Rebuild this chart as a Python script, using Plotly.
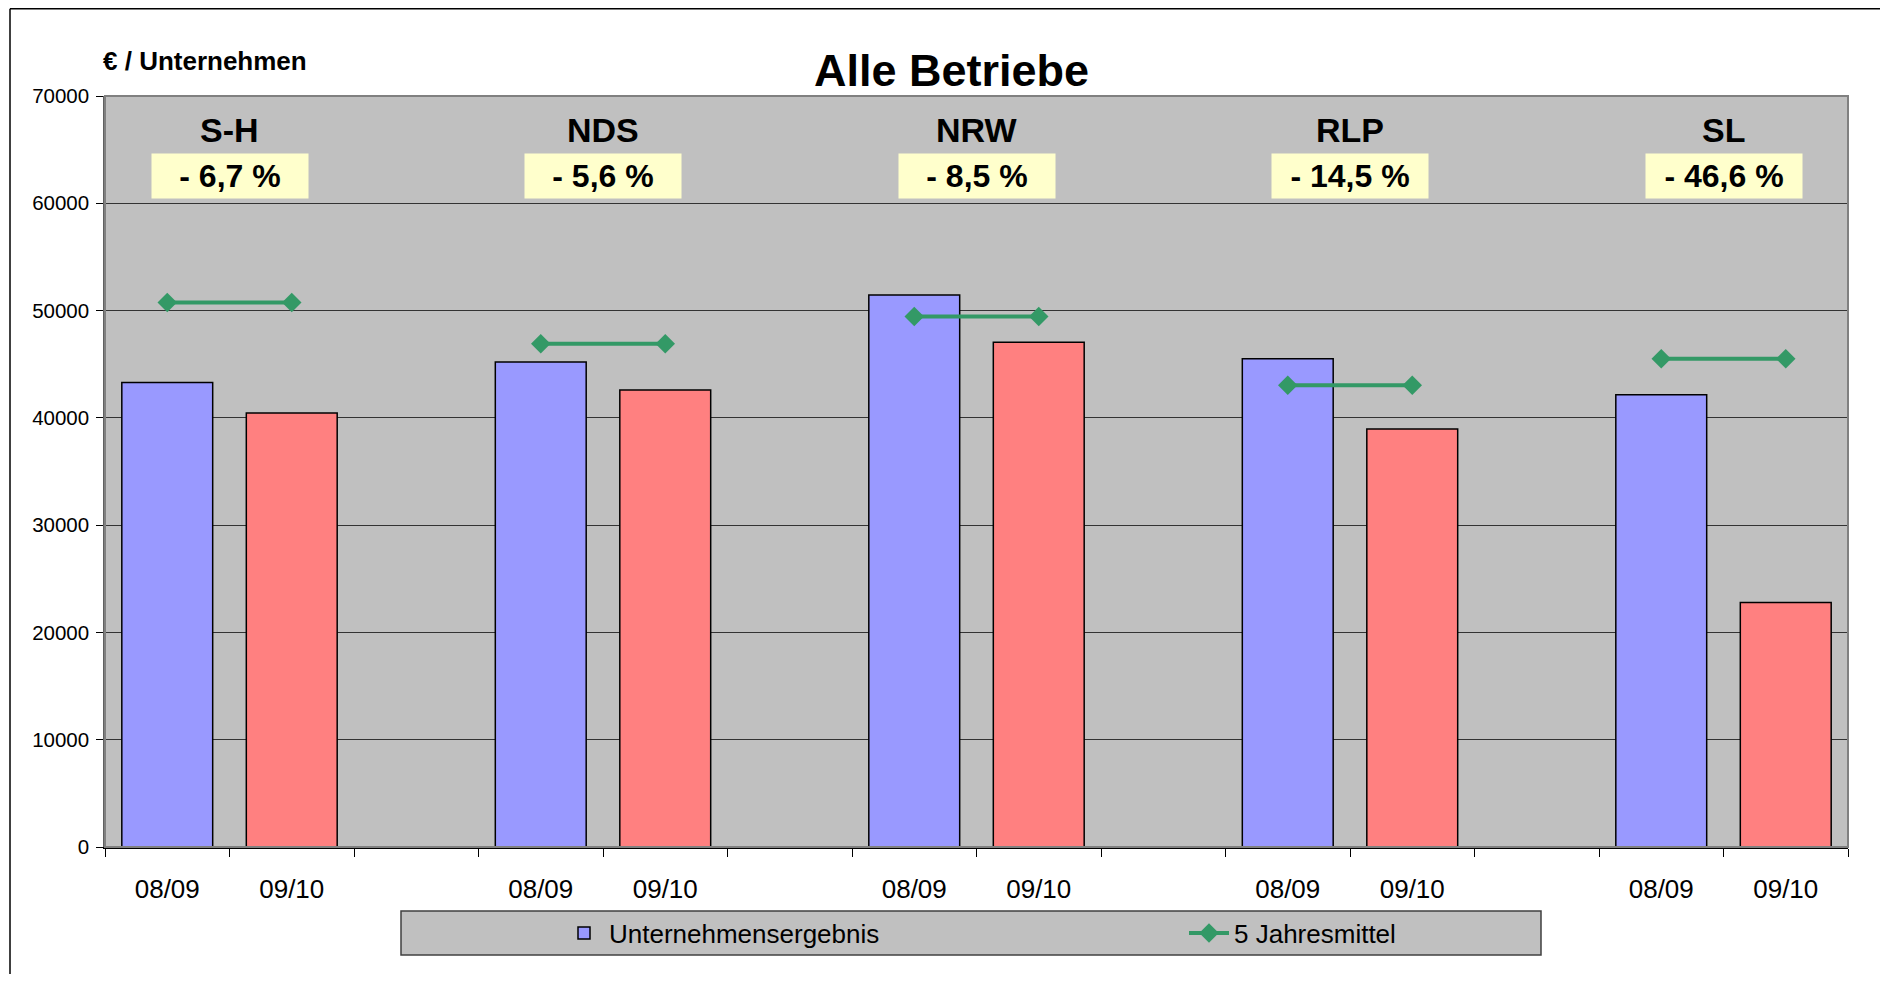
import plotly.graph_objects as go

# ---- data ----
categories = ["08/09", "09/10", "", "08/09", "09/10", "", "08/09", "09/10", "",
              "08/09", "09/10", "", "08/09", "09/10"]
ergebnis = [43300, 40450, None, 45200, 42600, None, 51450, 47050, None,
            45500, 38950, None, 42150, 22800]
jahresmittel = [50750, 50750, None, 46900, 46900, None, 49450, 49450, None,
                43050, 43050, None, 45500, 45500]
regions = ["S-H", "NDS", "NRW", "RLP", "SL"]
changes = ["- 6,7 %", "- 5,6 %", "- 8,5 %", "- 14,5 %", "- 46,6 %"]
y_ticks = [0, 10000, 20000, 30000, 40000, 50000, 60000, 70000]

FONT = "Liberation Sans, Arial, sans-serif"
BLUE = "#9999FF"
RED = "#FF8080"
GREEN = "#339966"

x = list(range(len(categories)))
bar_colors = [BLUE if c == "08/09" else RED for c in categories]

fig = go.Figure()
fig.add_trace(go.Bar(
    x=x, y=ergebnis, name="Unternehmensergebnis", width=0.73,
    marker=dict(color=bar_colors, line=dict(color="black", width=1.5)),
))
fig.add_trace(go.Scatter(
    x=x, y=jahresmittel, name="5 Jahresmittel", mode="lines+markers",
    connectgaps=False,
    line=dict(color=GREEN, width=4),
    marker=dict(symbol="diamond", size=15, color=GREEN),
))

# region labels and change boxes
region_x = []
for i in range(len(regions)):
    region_x.append((x[3 * i] + x[3 * i + 1]) / 2)
for rx, name, ch in zip(region_x, regions, changes):
    fig.add_annotation(x=rx, y=66800, text="<b>%s</b>" % name, showarrow=False,
                       font=dict(family=FONT, size=34, color="black"),
                       xref="x", yref="y")
    fig.add_annotation(x=rx, y=62500, text="<b>%s</b>" % ch, showarrow=False,
                       font=dict(family=FONT, size=32, color="black"),
                       bgcolor="#FFFFCC", width=156, height=44, borderpad=0,
                       xref="x", yref="y")

# figure geometry (page has an 8px body margin)
OFF = 8
W, H = 1872, 966
L, T = 97, 88
R = W - 1840
B = H - 839
pw, ph = W - L - R, H - T - B


def px_x(p):
    return (p - OFF - L) / pw


def px_y(p):
    return (H - B - (p - OFF)) / ph


# title and y-axis title
fig.add_annotation(x=px_x(951), y=px_y(70), xref="paper", yref="paper",
                   text="<b>Alle Betriebe</b>", showarrow=False,
                   font=dict(family=FONT, size=45, color="black"),
                   xanchor="center", yanchor="middle")
fig.add_annotation(x=px_x(101), y=px_y(61), xref="paper", yref="paper",
                   text="<b>€ / Unternehmen</b>", showarrow=False,
                   font=dict(family=FONT, size=26, color="black"),
                   xanchor="left", yanchor="middle")

# outer frame: only left and top edges visible
fig.add_shape(type="line", xref="paper", yref="paper",
              x0=px_x(10), x1=px_x(10), y0=px_y(1000), y1=px_y(8.8),
              line=dict(color="black", width=1.5), layer="below")
fig.add_shape(type="line", xref="paper", yref="paper",
              x0=px_x(10), x1=px_x(1950), y0=px_y(8.8), y1=px_y(8.8),
              line=dict(color="black", width=1.5), layer="below")
# legend box
fig.add_shape(type="rect", xref="paper", yref="paper",
              x0=px_x(401), x1=px_x(1541), y0=px_y(955), y1=px_y(911),
              line=dict(color="#404040", width=1.5), fillcolor="#C0C0C0",
              layer="below")
# plot area border
fig.add_shape(type="rect", xref="paper", yref="paper", x0=0, x1=1, y0=0, y1=1,
              line=dict(color="#808080", width=2), fillcolor="rgba(0,0,0,0)")

fig.update_layout(
    width=W, height=H,
    margin=dict(l=L, r=R, t=T, b=B, pad=0),
    paper_bgcolor="white", plot_bgcolor="#C0C0C0",
    font=dict(family=FONT, size=21, color="black"),
    bargap=0.27,
    showlegend=True,
    legend=dict(orientation="h", x=px_x(559), y=px_y(933), xanchor="left",
                yanchor="middle", bgcolor="rgba(0,0,0,0)",
                font=dict(family=FONT, size=26, color="black"),
                entrywidth=570, itemwidth=40),
    xaxis=dict(range=[-0.5, len(categories) - 0.5],
               tickvals=[i - 0.5 for i in range(len(categories) + 1)],
               showticklabels=False, ticks="outside", ticklen=8,
               tickcolor="black", tickwidth=1.2,
               showgrid=False, zeroline=False,
               showline=True, linecolor="black", linewidth=1.5),
    xaxis2=dict(range=[-0.5, len(categories) - 0.5], overlaying="x",
                anchor="y", side="bottom",
                tickvals=x, ticktext=categories, ticks="",
                tickfont=dict(family=FONT, size=26, color="black"),
                ticklabelstandoff=24,
                showgrid=False, zeroline=False, showline=False),
    yaxis=dict(range=[0, 70000], tickvals=y_ticks, tickformat="d",
               ticks="outside", ticklen=7, tickcolor="black", tickwidth=1.2,
               tickfont=dict(family=FONT, size=20.5, color="black"),
               ticklabelstandoff=3,
               showgrid=True, gridcolor="#333333", gridwidth=1.2,
               zeroline=False, showline=True, linecolor="#606060",
               linewidth=1.5),
)
# invisible helper so xaxis2 renders its labels
fig.add_trace(go.Scatter(x=[x[0]], y=[None], xaxis="x2", yaxis="y",
                         showlegend=False, hoverinfo="skip",
                         mode="markers", marker=dict(opacity=0)))

fig.write_html("out.html")
